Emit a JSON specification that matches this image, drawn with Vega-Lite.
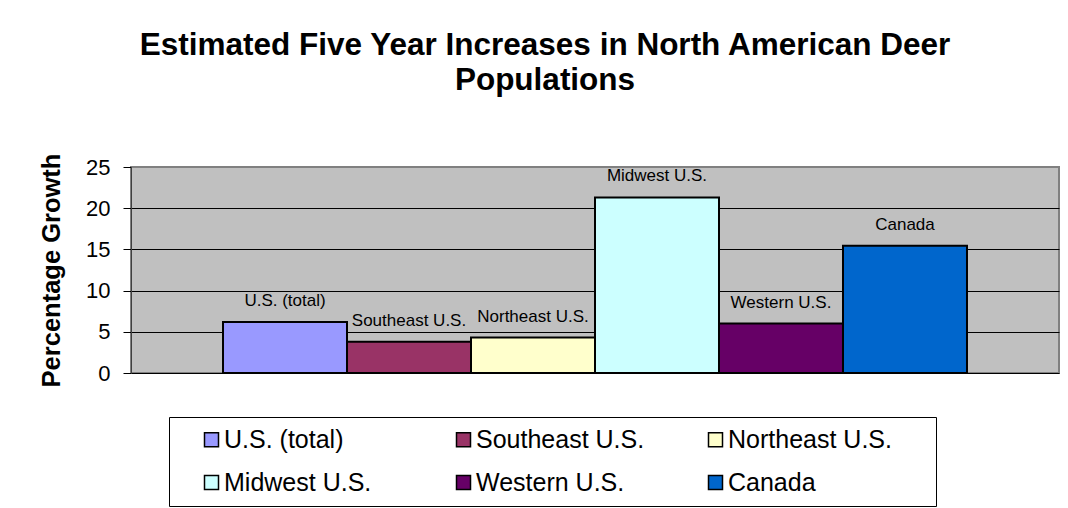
{
  "$schema": "https://vega.github.io/schema/vega-lite/v6.json",
  "width": 928,
  "height": 206,
  "autosize": {"type": "none"},
  "padding": {"left": 131, "top": 167, "right": 9, "bottom": 135},
  "background": "white",
  "title": {
    "text": ["Estimated Five Year Increases in North American Deer", "Populations"],
    "font": "Liberation Sans, Arial, sans-serif",
    "fontSize": 31.5,
    "fontWeight": "bold",
    "color": "black",
    "lineHeight": 35,
    "anchor": "middle",
    "frame": "group",
    "dx": -50,
    "offset": 57
  },
  "data": {
    "values": [
      {"region": "U.S. (total)", "growth": 6.2},
      {"region": "Southeast U.S.", "growth": 3.8},
      {"region": "Northeast U.S.", "growth": 4.3},
      {"region": "Midwest U.S.", "growth": 21.3},
      {"region": "Western U.S.", "growth": 6.0},
      {"region": "Canada", "growth": 15.45}
    ]
  },
  "encoding": {
    "x": {
      "field": "region",
      "type": "nominal",
      "sort": null,
      "axis": null,
      "scale": {"paddingInner": 0, "paddingOuter": 0.742}
    },
    "y": {
      "field": "growth",
      "type": "quantitative",
      "scale": {"domain": [0, 25], "nice": false},
      "axis": {
        "title": "Percentage Growth",
        "titleFont": "Liberation Sans, Arial, sans-serif",
        "titleFontSize": 25.5,
        "titleFontWeight": "bold",
        "titleColor": "black",
        "titlePadding": 21,
        "values": [0, 5, 10, 15, 20, 25],
        "labelFont": "Liberation Sans, Arial, sans-serif",
        "labelFontSize": 22,
        "labelColor": "black",
        "labelPadding": 13,
        "tickSize": 8,
        "tickColor": "black",
        "tickWidth": 1,
        "domainColor": "#404040",
        "domainWidth": 1,
        "grid": true,
        "gridColor": {"condition": {"test": "datum.value === 25", "value": "#808080"}, "value": "black"},
        "gridWidth": 1,
        "gridOpacity": 1
      }
    }
  },
  "layer": [
    {
      "mark": {"type": "bar", "stroke": "black", "strokeWidth": 2},
      "encoding": {
        "color": {
          "field": "region",
          "type": "nominal",
          "scale": {
            "domain": ["U.S. (total)", "Southeast U.S.", "Northeast U.S.", "Midwest U.S.", "Western U.S.", "Canada"],
            "range": ["#9999FF", "#993366", "#FFFFCC", "#CCFFFF", "#660066", "#0066CC"]
          },
          "legend": {
            "title": "xx",
            "titleOrient": "right",
            "titleFontSize": 20,
            "titlePadding": 11,
            "titleColor": "white",
            "titleOpacity": 0,
            "orient": "none",
            "legendX": 38,
            "legendY": 250,
            "columns": 3,
            "direction": "horizontal",
            "gridAlign": "all",
            "columnPadding": 38,
            "rowPadding": 17,
            "padding": 10,
            "strokeColor": "black",
            "fillColor": "white",
            "cornerRadius": 0,
            "symbolType": "square",
            "symbolSize": 196,
            "symbolStrokeColor": "black",
            "symbolStrokeWidth": 1.5,
            "symbolOpacity": 1,
            "symbolOffset": 20,
            "labelOffset": 0,
            "labelFont": "Liberation Sans, Arial, sans-serif",
            "labelFontSize": 25,
            "labelColor": "black",
            "labelLimit": 400
          }
        }
      }
    },
    {
      "mark": {
        "type": "text",
        "dy": -21,
        "baseline": "middle",
        "align": "center",
        "font": "Liberation Sans, Arial, sans-serif",
        "fontSize": 17,
        "color": "black"
      },
      "encoding": {"text": {"field": "region"}}
    }
  ],
  "config": {
    "view": {"fill": "#C0C0C0", "stroke": "#808080", "strokeWidth": 2}
  }
}
